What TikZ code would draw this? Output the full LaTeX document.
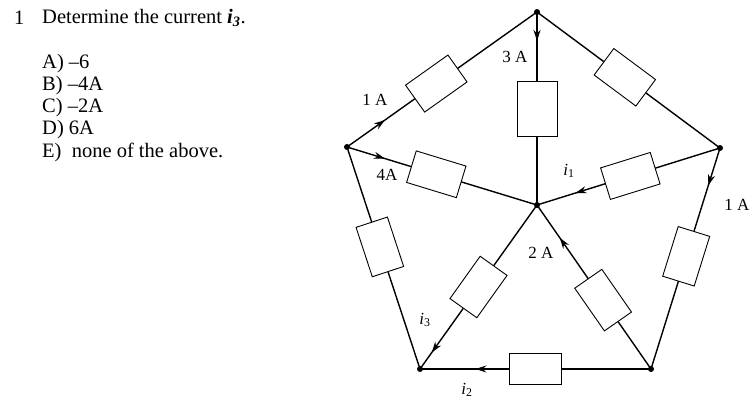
\documentclass[tikz,border=0pt]{standalone}
\usepackage{fontspec}
\setmainfont{Liberation Serif}
\usetikzlibrary{decorations.markings,arrows.meta}
\begin{document}
\begin{tikzpicture}[x=1pt,y=-1pt,
  res/.style={draw,fill=white,line width=0.9pt,minimum width=52pt,minimum height=33pt,inner sep=0pt},
  wire/.style={line width=1.4pt},
  dot/.style={circle,fill=black,inner sep=0pt,minimum size=6pt},
  lbl/.style={font=\fontsize{17}{19}\selectfont,inner sep=1pt},
  txt/.style={font=\fontsize{20.5}{23}\selectfont,anchor=west,inner sep=0pt},
  arr/.style={postaction={decorate},decoration={markings,mark=at position #1 with {\arrow{Stealth[length=11pt,width=7pt]}}}}]
\useasboundingbox (0,0) rectangle (755,405);
\node[txt] (q1) at (14,18) {1};
\node[txt] (q) at (42,18) {Determine the current \textbf{\textit{i}}\textsubscript{\textbf{\textit{3}}}.};
\node[txt] (a) at (42,64) {A) –6};
\node[txt] (b) at (42,86) {B) –4A};
\node[txt] (c) at (42,108) {C) –2A};
\node[txt] (d) at (42,130) {D) 6A};
\node[txt] (e) at (42,152) {E)\ \ none of the above.};
\coordinate (T) at (537,12);
\coordinate (R) at (720,148);
\coordinate (BR) at (651,369);
\coordinate (BL) at (420,369);
\coordinate (L) at (347,147);
\coordinate (C) at (537,205);
\draw[wire,arr=0.2] (L) -- node[res,sloped,pos=0.47]{} (T);
\draw[wire] (T) -- node[res,sloped,pos=0.48]{} (R);
\draw[wire] (L) -- node[res,sloped,pos=0.45]{} (BL);
\draw[wire,arr=0.17] (R) -- node[res,sloped,pos=0.49]{} (BR);
\draw[wire,arr=0.76] (BR) -- node[res,pos=0.5,minimum width=52pt,minimum height=31pt]{} (BL);
\draw[wire,arr=0.15] (T) -- node[res,pos=0.5,minimum width=40pt,minimum height=55pt]{} (C);
\draw[wire,arr=0.2] (L) -- node[res,sloped,pos=0.47]{} (C);
\draw[wire,arr=0.79] (R) -- node[res,sloped,pos=0.49]{} (C);
\draw[wire,arr=0.9] (C) -- node[res,sloped,pos=0.5]{} (BL);
\draw[wire,arr=0.8] (BR) -- node[res,sloped,pos=0.42]{} (C);
\foreach \p in {T,R,BR,BL,L,C} \node[dot] at (\p) {};
\node[lbl] (l3a) at (515,57) {3 A};
\node[lbl] (l1a) at (375,100) {1 A};
\node[lbl] (l4a) at (387,175) {4A};
\node[lbl] (li1) at (569,171) {\textit{i}\textsubscript{1}};
\node[lbl] (l1b) at (737,205) {1 A};
\node[lbl] (l2a) at (541,253) {2 A};
\node[lbl] (li3) at (425,320) {\textit{i}\textsubscript{3}};
\node[lbl] (li2) at (467,390) {\textit{i}\textsubscript{2}};
\end{tikzpicture}
\end{document}
